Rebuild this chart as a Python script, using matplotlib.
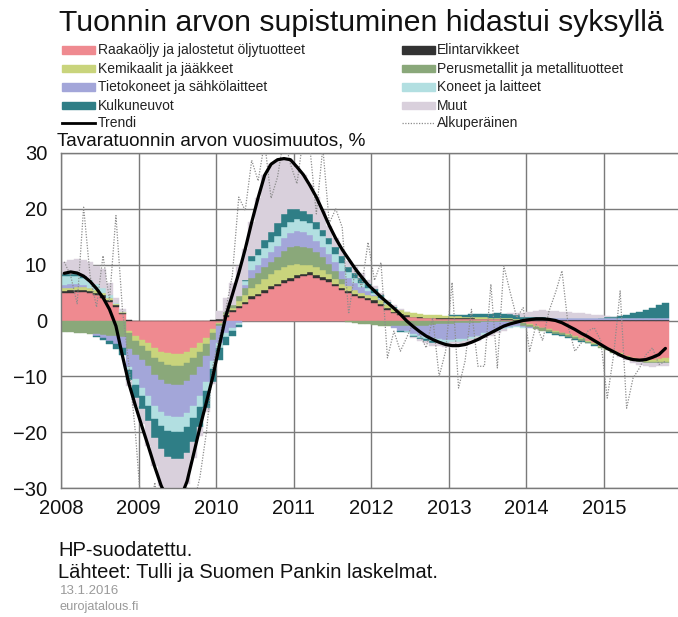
import numpy as np
import pandas as pd
import matplotlib
matplotlib.use("Agg")
import matplotlib.pyplot as plt
from matplotlib.patches import Rectangle
from matplotlib.lines import Line2D

plt.rcParams['font.family'] = ['Liberation Sans', 'DejaVu Sans']

# monthly data Jan 2008 - Oct 2015, percentage points of import value growth
months = pd.period_range('2008-01', '2015-10', freq='M')

raakaoljy = [4.9, 5.0, 5.1, 5.1, 4.9, 4.6, 4.1, 3.4, 2.4, 1.2,
             -1.8, -2.8, -3.5, -4.1, -5.0, -5.6, -5.9, -6.0, -6.0, -5.6, -4.9, -4.1, -3.1, -1.6,
             -0.4, 0.6, 1.5, 2.3, 2.9,
             3.9, 4.4, 5.0, 5.6, 6.1, 6.7, 7.1, 7.6, 7.9, 8.1, 7.7, 7.3, 6.9, 6.1, 5.4,
             4.9, 4.4, 4.0, 3.6, 3.2,
             2.6, 1.9, 1.3, 0.9, 0.7, 0.6, 0.5, 0.4, 0.4, 0.3, 0.3, 0.3, 0.3, 0.3, 0.3, 0.2, 0.2, 0.2, 0.2, 0.1, 0.1, 0.0,
             -0.4, -0.7, -1.0, -1.3, -1.6, -1.9, -2.2, -2.5, -2.8, -3.2, -3.6, -4.0, -4.5, -4.9, -5.4, -5.9, -6.3, -6.7,
             -6.9, -7.0, -7.0, -6.9, -6.8]
elintarvikkeet = [0.4, 0.4, 0.4, 0.4, 0.4, 0.4, 0.4, 0.3, 0.3, 0.2,
                  0.1, 0.0, 0.0, 0.0, 0.0, 0.0, 0.0, 0.0, 0.0, 0.0, 0.0, 0.0, 0.0, 0.1,
                  0.2, 0.3, 0.3, 0.3, 0.4,
                  0.4, 0.4, 0.5, 0.5, 0.5, 0.5, 0.5, 0.5, 0.5, 0.5, 0.5, 0.5, 0.5, 0.5, 0.5,
                  0.4, 0.4, 0.4, 0.4, 0.4,
                  0.3, 0.3, 0.3, 0.2, 0.2, 0.1, 0.1, 0.1, 0.1, 0.1, 0.1, 0.1, 0.1, 0.1, 0.1, 0.1, 0.1, 0.1, 0.1, 0.1, 0.1, 0.1,
                  0.1, 0.1, 0.1, 0.1, 0.1, 0.1, 0.1, 0.1, 0.1, 0.1, 0.1, 0.1, 0.1, 0.1, 0.1, 0.1, 0.1, 0.1,
                  0.1, 0.1, 0.1, 0.1, 0.1]
kemikaalit = [0.5, 0.5, 0.5, 0.5, 0.5, 0.4, 0.4, 0.3, 0.2, 0.1,
              -0.4, -0.8, -1.0, -1.3, -1.7, -1.9, -2.1, -2.1, -2.1, -2.0, -1.8, -1.5, -1.1, -0.6,
              -0.2, 0.3, 0.5, 0.9, 1.2,
              1.5, 1.7, 2.0, 2.2, 2.4, 2.4, 2.3, 2.0, 1.6, 1.3, 1.3, 1.2, 1.0, 0.8, 0.7,
              0.8, 0.7, 0.6, 0.6, 0.7,
              0.8, 0.8, 0.7, 0.7, 0.6, 0.6, 0.6, 0.5, 0.5, 0.5, 0.4, 0.4, 0.4, 0.3, 0.3, 0.3, 0.3, 0.2, 0.2, 0.2, 0.2, 0.1,
              -0.1, -0.1, -0.1, -0.1, -0.1, -0.1, -0.1, -0.1, -0.2, -0.2, -0.2, -0.2, -0.2, -0.2, -0.2, -0.3, -0.3, -0.3,
              -0.3, -0.4, -0.5, -0.5, -0.6]
perusmetallit = [-2.0, -2.1, -2.2, -2.3, -2.4, -2.5, -2.6, -2.7, -2.8, -2.9,
                 -2.9, -2.6, -2.6, -2.8, -3.0, -3.2, -3.4, -3.5, -3.5, -3.3, -3.0, -2.7, -2.2, -1.3,
                 -0.4, 0.3, 0.5, 0.9, 1.3,
                 1.9, 2.0, 2.1, 2.1, 2.3, 2.8, 3.2, 3.2, 3.2, 3.1, 2.7, 2.3, 1.8, 1.4, 0.8,
                 -0.3, -0.5, -0.6, -0.7, -0.8,
                 -0.9, -0.9, -1.0, -1.0, -1.0, -1.0, -0.9, -0.9, -0.8, -0.7, -0.7, -0.6, -0.5, -0.5, -0.4, -0.4, -0.3, -0.3,
                 -0.3, -0.3, -0.3, -0.4,
                 -0.4, -0.4, -0.4, -0.4, -0.4, -0.4, -0.3, -0.3, -0.3, -0.3, -0.2, -0.2, -0.2, -0.2, -0.2, -0.2, -0.2, -0.2,
                 -0.2, -0.2, -0.2, -0.2, -0.2]
tietokoneet = [0.6, 0.6, 0.5, 0.3, 0.1, -0.2, -0.5, -0.9, -1.4, -2.0,
               -3.2, -4.3, -4.9, -5.3, -5.6, -5.7, -5.7, -5.7, -5.7, -5.7, -5.6, -5.2, -4.6, -3.8,
               -3.0, -2.2, -1.3, -0.5, 0.6,
               1.3, 1.5, 1.6, 1.8, 2.0, 2.3, 2.5, 2.7, 2.6, 2.4, 2.0, 1.8, 1.7, 1.6, 1.5,
               1.5, 1.2, 1.0, 0.6, 0.3,
               0.2, 0.0, -0.4, -0.8, -0.9, -1.4, -1.8, -2.1, -2.4, -2.6, -2.8, -2.9, -2.9, -2.8, -2.6, -2.3, -2.0, -1.7,
               -1.4, -1.1, -0.8, -0.5,
               -0.3, -0.1, 0.1, 0.3, 0.3, 0.3, 0.3, 0.3, 0.3, 0.3, 0.3, 0.3, 0.3, 0.3, 0.3, 0.3, 0.3, 0.3,
               0.3, 0.3, 0.3, 0.3, 0.3]
koneet = [1.5, 1.5, 1.5, 1.4, 1.3, 1.1, 0.9, 0.6, 0.3, 0.1,
          -0.6, -1.1, -1.5, -1.9, -2.3, -2.5, -2.7, -2.7, -2.7, -2.5, -2.2, -2.0, -1.7, -1.3,
          -1.0, -0.8, -0.5, -0.3, 0.6,
          1.6, 1.7, 1.8, 1.8, 1.8, 2.0, 2.1, 2.1, 2.1, 2.1, 2.1, 2.0, 1.8, 1.6, 1.4,
          1.0, 0.9, 0.8, 0.6, 0.4,
          0.2, 0.1, 0.0, -0.1, -0.1, -0.3, -0.4, -0.4, -0.5, -0.5, -0.5, -0.4, -0.4, -0.4, -0.4, -0.3, -0.3, -0.3,
          -0.2, -0.2, -0.2, -0.2,
          -0.1, 0.0, 0.1, 0.1, 0.1, 0.1, 0.1, 0.1, 0.1, 0.1, 0.1, 0.1, 0.1, 0.1, 0.1, 0.1, 0.1, 0.1,
          0.1, 0.1, 0.1, 0.1, 0.1]
kulkuneuvot = [0.4, 0.4, 0.3, 0.2, 0.1, -0.2, -0.4, -0.6, -0.9, -1.2,
               -1.8, -2.3, -2.4, -2.6, -3.4, -4.2, -4.7, -4.8, -4.8, -4.6, -4.2, -3.6, -3.0, -2.5,
               -2.0, -1.4, -0.9, -0.4, 0.3,
               0.9, 1.1, 1.5, 1.9, 2.3, 2.3, 2.2, 1.9, 1.7, 1.5, 1.3, 1.1, 1.0, 1.2, 1.3,
               1.0, 0.9, 0.9, 0.8, 0.7,
               0.4, 0.2, 0.1, -0.1, -0.1, -0.2, -0.3, -0.3, -0.3, -0.2, -0.1, 0.1, 0.2, 0.3, 0.4, 0.5, 0.6, 0.7,
               0.8, 0.8, 0.8, 0.8,
               0.6, 0.5, 0.3, 0.1, -0.1, -0.2, -0.2, -0.2, -0.2, -0.2, -0.1, -0.1, 0.0, 0.1, 0.2, 0.3, 0.5, 0.8,
               1.1, 1.4, 1.8, 2.2, 2.7]
muut = [2.2, 2.5, 2.8, 3.0, 3.1, 3.2, 3.5, 2.2, 0.8, 0.4,
        -1.0, -1.5, -2.6, -4.4, -5.0, -6.5, -7.5, -8.3, -7.5, -5.5, -3.0, -1.5, -0.6, -0.2,
        1.5, 2.5, 4.0, 5.3, 5.5,
        6.1, 9.2, 11.5, 12.1, 11.4, 10.0, 8.9, 7.5, 6.5, 5.2, 4.5, 3.4, 2.3, 1.5, 1.1,
        1.0, 1.0, 0.8, 0.6, 0.4,
        0.5, 0.4, 0.3, 0.2, 0.0, -0.2, -0.3, -0.4, -0.5, -0.6, -0.7, -0.8, -0.8, -0.8, -0.7, -0.6, -0.5, -0.4,
        -0.3, -0.2, 0.1, 0.4,
        0.6, 0.9, 1.1, 1.2, 1.2, 1.2, 1.1, 1.0, 0.9, 0.8, 0.7, 0.5, 0.4, 0.2, 0.0, -0.2, -0.3, -0.4,
        -0.5, -0.5, -0.6, -0.6, -0.6]

trendi = [8.45, 8.7, 8.5, 7.95, 7.0, 5.7, 4.1, 2.0, -1.0, -6.3, -11.3, -15.2,
          -18.9, -22.5, -26.2, -29.6, -31.9, -33.0, -31.8, -28.8, -24.0, -19.1, -14.6, -10.0,
          -4.5, 0.8, 4.6, 8.5, 12.8, 17.6, 22.0, 26.0, 28.0, 28.8, 29.0, 28.8,
          27.5, 26.1, 24.2, 22.1, 19.6, 17.0, 14.7, 12.7, 11.0, 9.3, 7.8, 6.4,
          5.3, 4.2, 3.2, 2.2, 1.1, -0.1, -1.1, -2.0, -2.8, -3.4, -3.9, -4.3,
          -4.5, -4.5, -4.3, -3.9, -3.4, -2.8, -2.2, -1.6, -1.0, -0.6, -0.3, 0.0,
          0.15, 0.3, 0.3, 0.2, 0.0, -0.4, -1.0, -1.6, -2.3, -2.9, -3.6, -4.3,
          -5.0, -5.6, -6.2, -6.7, -7.0, -7.1, -7.0, -6.6, -6.1, -5.0]
alkuperainen = [10.5, 8.0, 3.0, 20.3, 8.0, 2.4, 11.6, 3.6, 18.8, 2.0, -8.0, -20.0,
                -35.0, -38.0, -29.0, -36.0, -40.0, -38.0, -36.0, -30.0, -33.0, -28.0, -20.0, -8.0,
                -3.0, 2.0, 8.0, 22.1, 19.7, 28.7, 25.0, 32.0, 21.9, 25.7, 33.0, 28.0,
                24.5, 33.0, 31.0, 19.1, 31.0, 17.4, 20.0, 16.7, 1.2, 9.0, 6.0, 14.0,
                7.2, 10.4, -6.7, -1.9, -5.5, -3.0, -0.4, -2.5, -4.9, 0.5, -10.0, -5.5,
                6.8, -12.1, -7.3, 2.0, -8.2, -8.2, 6.5, -8.5, 9.8, 5.0, 0.5, 2.3,
                -5.5, -0.7, -3.6, 1.7, 5.0, 8.9, -1.3, -5.5, -4.0, -1.9, -1.3, -3.6,
                -13.9, -6.1, 5.3, -15.7, -10.3, -8.5, -6.1, -4.9, -7.9, -7.3]

labels = ["Raakaöljy ja jalostetut öljytuotteet", "Elintarvikkeet", "Kemikaalit ja jääkkeet",
          "Perusmetallit ja metallituotteet", "Tietokoneet ja sähkölaitteet", "Koneet ja laitteet",
          "Kulkuneuvot", "Muut"]
colors = ["#ef8a90", "#333333", "#c9d47c", "#8aa87a", "#a3a6d9", "#b2dfe1", "#2f7e86", "#d9d0dc"]
components = [raakaoljy, elintarvikkeet, kemikaalit, perusmetallit, tietokoneet, koneet, kulkuneuvot, muut]

W, H = 678, 617
fig = plt.figure(figsize=(W / 100, H / 100), dpi=100)
ax = fig.add_axes([61 / W, 1 - 488 / H, (W - 61) / W, (488 - 153) / H])

x = np.array([p.year + (p.month - 1) / 12 for p in months])
pos = np.zeros(len(x))
neg = np.zeros(len(x))
for vals, col in zip(components, colors):
    v = np.array(vals)
    bottom = np.where(v >= 0, pos, neg)
    ax.bar(x, v, width=1 / 12, bottom=bottom, align='edge', color=col,
           edgecolor=col, linewidth=0.3, zorder=2)
    pos += np.clip(v, 0, None)
    neg += np.clip(v, None, 0)

xm = x + 1 / 24
ax.plot(xm, alkuperainen, color="#8c8c8c", lw=0.9, ls=(0, (1, 1.2)), zorder=3)
ax.plot(xm, trendi, color="black", lw=2.3, zorder=4, solid_capstyle='round')

ax.set_xlim(2008, 2008 + (W - 61) / 77.57)
ax.set_ylim(-30, 30)
ax.set_yticks(range(-30, 31, 10))
ax.set_xticks(range(2008, 2016))
ax.tick_params(length=0, labelsize=14.5, colors="#111111")
ax.tick_params(axis='y', pad=10)
ax.tick_params(axis='x', pad=8)
ax.grid(True, color="#7a7a7a", lw=1.0, zorder=0)
ax.set_axisbelow(True)
for s in ['top', 'bottom', 'left']:
    ax.spines[s].set_color("#7a7a7a")
    ax.spines[s].set_linewidth(1.0)
ax.spines['right'].set_visible(False)


def fx(px):
    return px / W


def fy(py):
    return 1 - py / H


fig.text(fx(59), fy(23), "Tuonnin arvon supistuminen hidastui syksyllä", fontsize=21.7,
         va='center', ha='left', color="#111111")

rows = [50, 68.5, 87, 105.5, 123.5]
fs_leg = 10
left_items = [(labels[0], colors[0]), (labels[2], colors[2]), (labels[4], colors[4]), (labels[6], colors[6])]
right_items = [(labels[1], colors[1]), (labels[3], colors[3]), (labels[5], colors[5]), (labels[7], colors[7])]
for (lab, col), yy in zip(left_items, rows):
    fig.add_artist(Rectangle((fx(62), fy(yy + 3.5)), fx(33), 7 / H, color=col, transform=fig.transFigure))
    fig.text(fx(98), fy(yy), lab, fontsize=fs_leg, va='center', color="#222222")
for (lab, col), yy in zip(right_items, rows):
    fig.add_artist(Rectangle((fx(402), fy(yy + 3.5)), fx(33), 7 / H, color=col, transform=fig.transFigure))
    fig.text(fx(437), fy(yy), lab, fontsize=fs_leg, va='center', color="#222222")
fig.add_artist(Line2D([fx(62), fx(95)], [fy(rows[4]), fy(rows[4])], color="black", lw=2,
                      transform=fig.transFigure))
fig.text(fx(98), fy(rows[4]), "Trendi", fontsize=fs_leg, va='center', color="#222222")
fig.add_artist(Line2D([fx(402), fx(435)], [fy(rows[4]), fy(rows[4])], color="#8c8c8c", lw=0.9,
                      ls=(0, (1, 1.2)), transform=fig.transFigure))
fig.text(fx(437), fy(rows[4]), "Alkuperäinen", fontsize=fs_leg, va='center', color="#222222")

fig.text(fx(57), fy(141), "Tavaratuonnin arvon vuosimuutos, %", fontsize=13.6, va='center', color="#111111")

fig.text(fx(58), fy(550), "HP-suodatettu.", fontsize=14.5, va='center', color="#111111")
fig.text(fx(58), fy(572), "Lähteet: Tulli ja Suomen Pankin laskelmat.", fontsize=14.5, va='center', color="#111111")
fig.text(fx(60), fy(591), "13.1.2016", fontsize=9.5, va='center', color="#9a9a9a")
fig.text(fx(60), fy(607), "eurojatalous.fi", fontsize=9.2, va='center', color="#9a9a9a")

fig.savefig("out.png", dpi=100)
